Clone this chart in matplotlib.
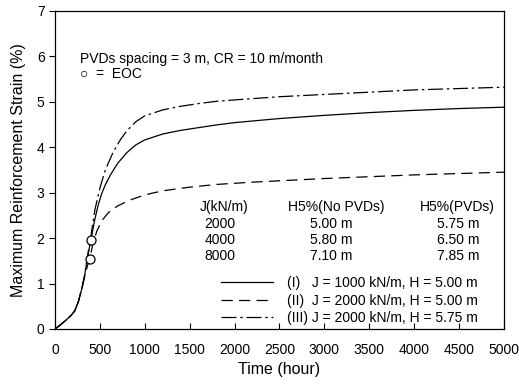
import matplotlib.pyplot as plt

plt.rcParams['font.family'] = ['Liberation Sans', 'DejaVu Sans']

# curve (I): J = 1000 kN/m, H = 5.00 m
t_1 = [0, 60, 120, 180, 220, 260, 300, 330, 360, 400, 440, 480, 520, 560, 620, 700,
       800, 900, 1000, 1200, 1400, 1600, 1800, 2000, 2500, 3000, 3500, 4000, 4500, 5000]
s_1 = [0, 0.09, 0.19, 0.30, 0.40, 0.60, 0.90, 1.18, 1.55, 1.96, 2.38, 2.72, 2.98, 3.17,
       3.40, 3.65, 3.88, 4.05, 4.16, 4.29, 4.37, 4.43, 4.49, 4.54, 4.63, 4.70, 4.76, 4.81,
       4.85, 4.88]

# curve (II): J = 2000 kN/m, H = 5.00 m
t_2 = [0, 60, 120, 180, 220, 260, 300, 330, 360, 385, 420, 465, 520, 595, 700, 840,
       1000, 1200, 1500, 1800, 2200, 2600, 3000, 3500, 4000, 4500, 5000]
s_2 = [0, 0.09, 0.19, 0.30, 0.40, 0.60, 0.90, 1.15, 1.38, 1.53, 1.85, 2.15, 2.38, 2.56,
       2.71, 2.84, 2.95, 3.04, 3.12, 3.18, 3.23, 3.27, 3.31, 3.35, 3.39, 3.42, 3.45]

# curve (III): J = 2000 kN/m, H = 5.75 m
t_3 = [0, 60, 120, 180, 220, 260, 300, 330, 360, 400, 445, 500, 560, 650, 730, 800,
       900, 1000, 1200, 1400, 1600, 1800, 2000, 2500, 3000, 3500, 4000, 4500, 5000]
s_3 = [0, 0.09, 0.19, 0.30, 0.40, 0.60, 0.90, 1.18, 1.58, 2.05, 2.63, 3.10, 3.50, 3.90,
       4.17, 4.36, 4.56, 4.69, 4.82, 4.90, 4.96, 5.01, 5.04, 5.11, 5.16, 5.21, 5.26, 5.29,
       5.32]

# end of construction points
eoc_t = [385, 400]
eoc_s = [1.53, 1.96]

# table of H5% values
tab_j = ['2000', '4000', '8000']
tab_nopvd = ['5.00 m', '5.80 m', '7.10 m']
tab_pvd = ['5.75 m', '6.50 m', '7.85 m']

labels = ['(I)   J = 1000 kN/m, H = 5.00 m',
          '(II)  J = 2000 kN/m, H = 5.00 m',
          '(III) J = 2000 kN/m, H = 5.75 m']

fig = plt.figure(figsize=(5.19, 3.87), dpi=100)
ax = fig.add_axes([0.106, 0.150, 0.865, 0.822])

l1, = ax.plot(t_1, s_1, color='black', lw=0.9, ls='-')
l2, = ax.plot(t_2, s_2, color='black', lw=0.9, ls=(0, (9, 5)))
l3, = ax.plot(t_3, s_3, color='black', lw=0.9, ls=(0, (12, 3, 2, 3)))
ax.plot(eoc_t, eoc_s, ls='none', marker='o', ms=6.5, mfc='white', mec='black', mew=0.9)

ax.set_xlim(0, 5000)
ax.set_ylim(0, 7)
ax.set_xticks(range(0, 5001, 500))
ax.set_yticks(range(0, 8))
ax.tick_params(axis='x', direction='in', length=4, labelsize=10, pad=10)
ax.tick_params(axis='y', direction='out', length=4, labelsize=10)
ax.set_xlabel('Time (hour)', fontsize=11.5, labelpad=4)
ax.set_ylabel('Maximum Reinforcement Strain (%)', fontsize=11.5, labelpad=8)
for sp in ax.spines.values():
    sp.set_linewidth(0.9)

fs = 10
ax.text(280, 5.95, 'PVDs spacing = 3 m, CR = 10 m/month', fontsize=fs, va='center')
ax.text(280, 5.6, '\u25cb  =  EOC', fontsize=fs, va='center')

# table
ax.text(1880, 2.68, 'J(kN/m)', fontsize=fs, ha='center', va='center')
ax.text(3130, 2.68, 'H5%(No PVDs)', fontsize=fs, ha='center', va='center')
ax.text(4480, 2.68, 'H5%(PVDs)', fontsize=fs, ha='center', va='center')
for i in range(3):
    y = 2.31 - 0.355 * i
    ax.text(1840, y, tab_j[i], fontsize=fs, ha='center', va='center')
    ax.text(3080, y, tab_nopvd[i], fontsize=fs, ha='center', va='center')
    ax.text(4490, y, tab_pvd[i], fontsize=fs, ha='center', va='center')

leg = ax.legend([l1, l2, l3], labels, loc='lower right', frameon=False, fontsize=fs,
                handlelength=3.8, handletextpad=1.0, labelspacing=0.25,
                bbox_to_anchor=(0.955, -0.005), borderaxespad=0.0)

fig.savefig('out.png', dpi=100)
